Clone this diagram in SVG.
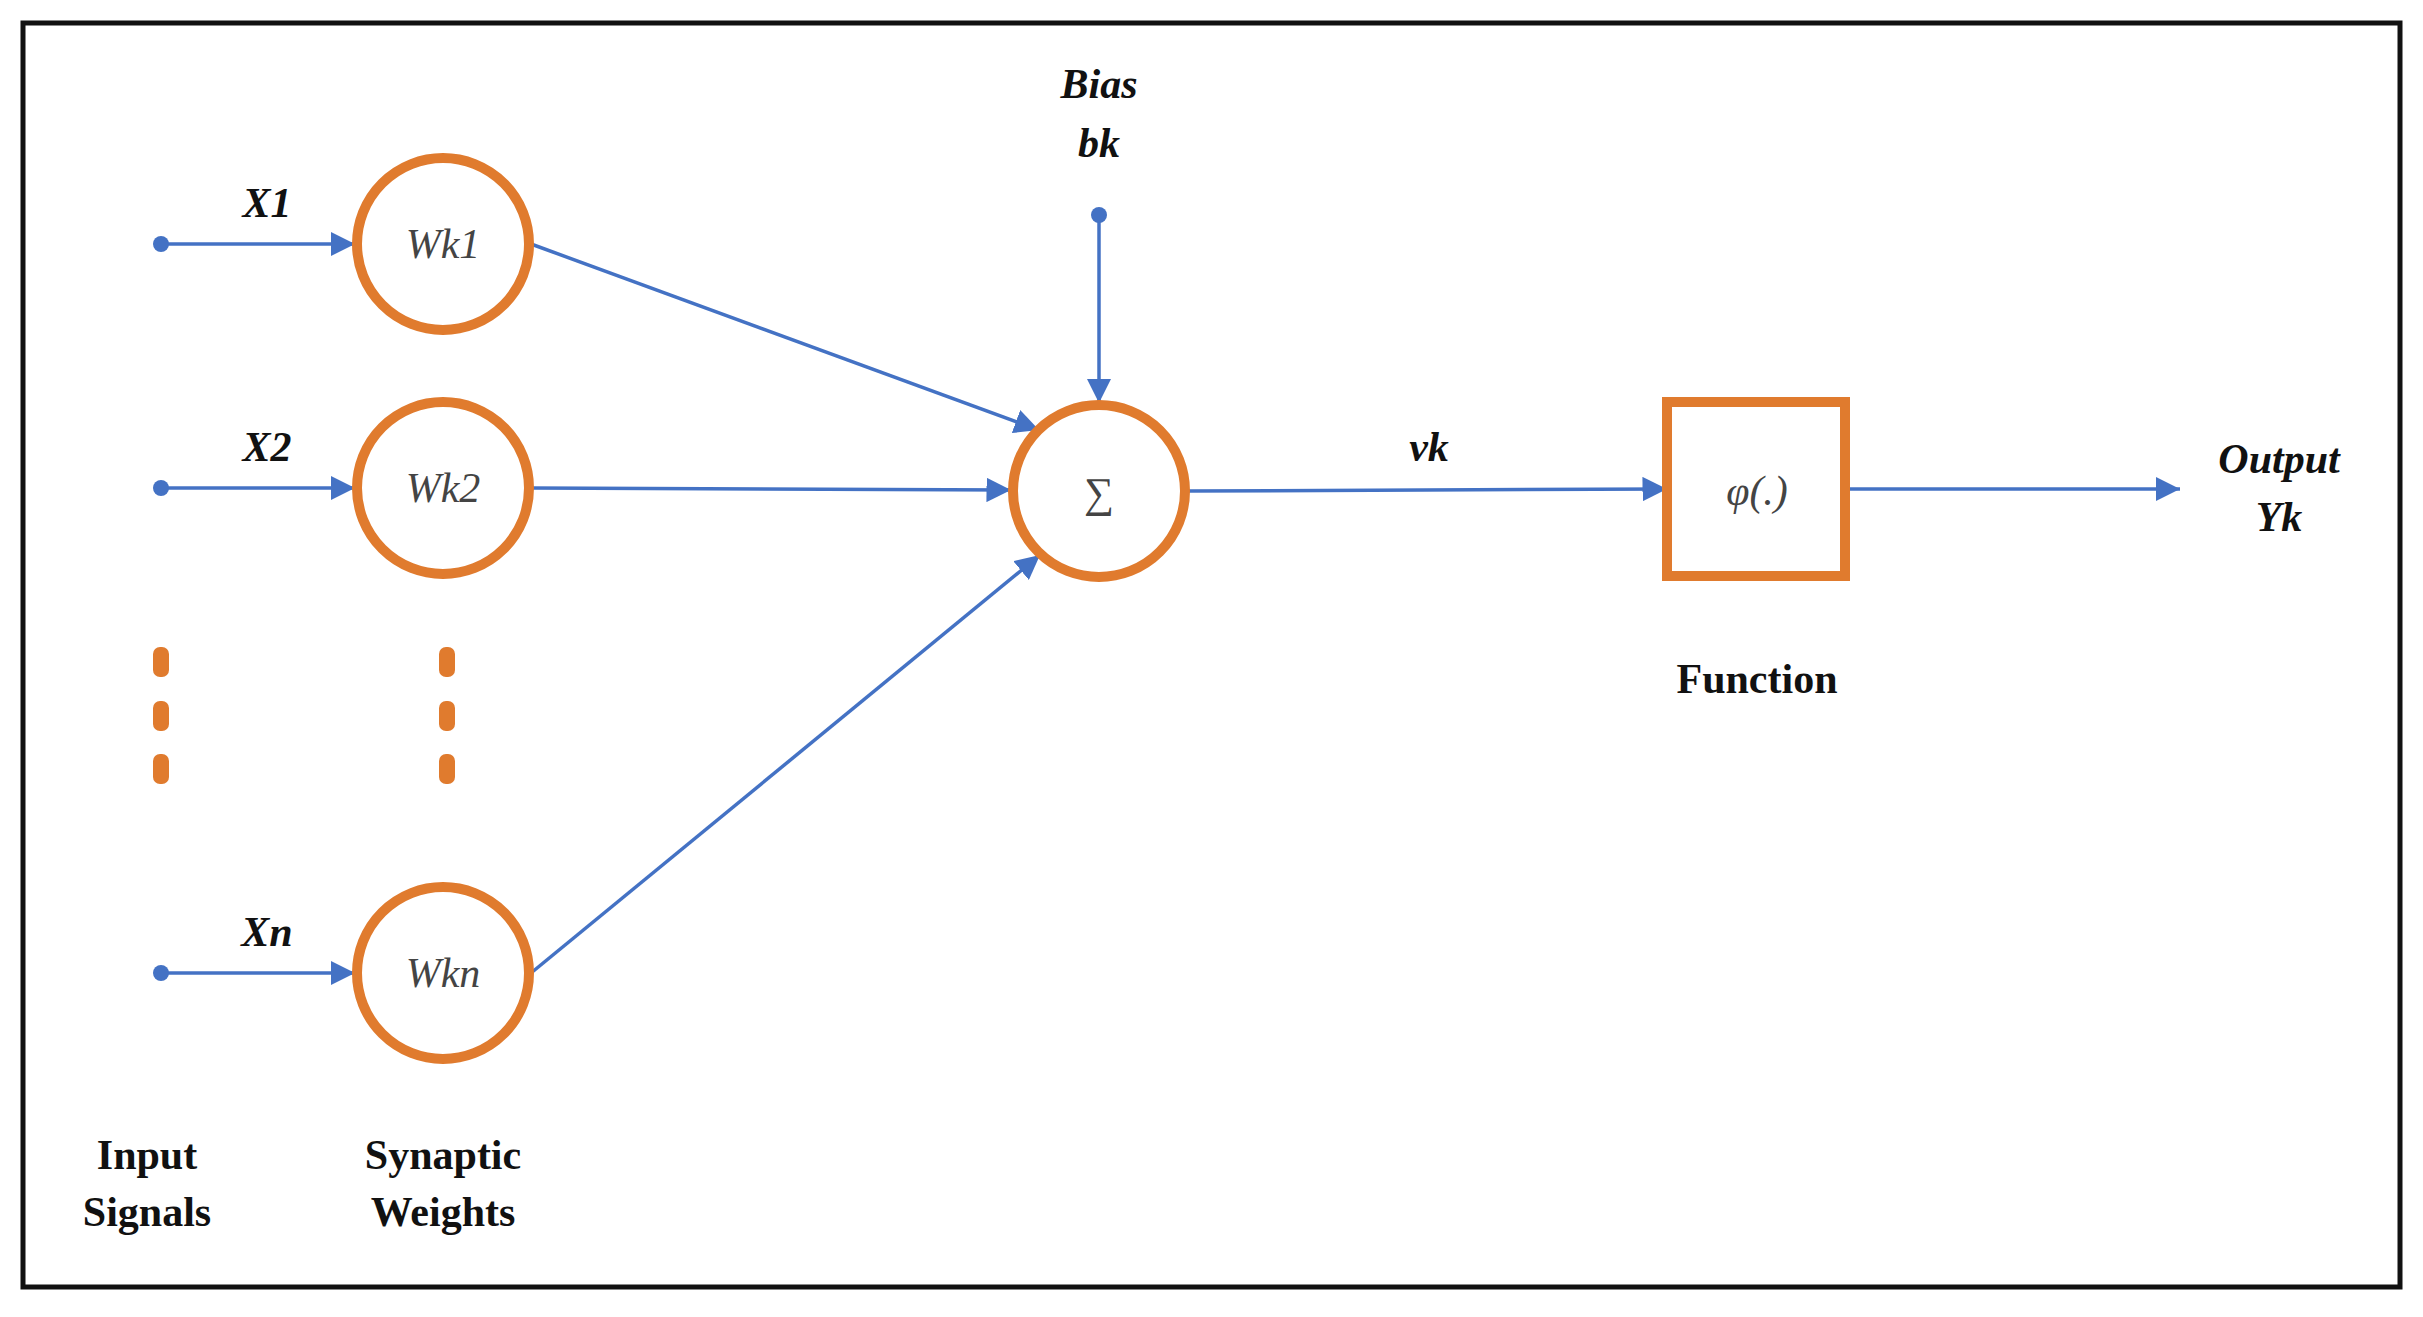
<svg xmlns="http://www.w3.org/2000/svg" width="2423" height="1317" viewBox="0 0 2423 1317">
<style>
.c{fill:#fff;stroke:#E07B2E;stroke-width:10}
.l{stroke:#4472C4;stroke-width:3.5;fill:none}
.bi{font-family:"Liberation Serif",serif;font-weight:bold;font-style:italic;font-size:42px;fill:#111;text-anchor:middle}
.b{font-family:"Liberation Serif",serif;font-weight:bold;font-size:42px;fill:#111;text-anchor:middle}
.i{font-family:"Liberation Serif",serif;font-style:italic;font-size:42px;fill:#444;text-anchor:middle}
.d{fill:#4472C4}
.o{fill:#E07B2E}
</style>
<defs><marker id="a" viewBox="0 0 10 10" refX="10" refY="5" markerWidth="8" markerHeight="8" markerUnits="userSpaceOnUse" orient="auto"><path d="M0,0L10,5L0,10z" fill="#4472C4" transform="scale(1)"/></marker>
<marker id="m" viewBox="0 0 10 10" refX="10" refY="5" markerWidth="7" markerHeight="7" orient="auto"><path d="M0,0L10,5L0,10z" fill="#4472C4"/></marker></defs>
<rect x="23" y="23" width="2377" height="1264" fill="#fff" stroke="#111" stroke-width="5"/>
<g id="connectors">
<line class="l" x1="161" y1="244" x2="355" y2="244" marker-end="url(#m)"/>
<line class="l" x1="161" y1="488" x2="355" y2="488" marker-end="url(#m)"/>
<line class="l" x1="161" y1="973" x2="355" y2="973" marker-end="url(#m)"/>
<line class="l" x1="531" y1="244" x2="1039" y2="430" marker-end="url(#m)"/>
<line class="l" x1="531" y1="488" x2="1011" y2="490" marker-end="url(#m)"/>
<line class="l" x1="531" y1="973" x2="1040" y2="555" marker-end="url(#m)"/>
<line class="l" x1="1099" y1="215" x2="1099" y2="403" marker-end="url(#m)"/>
<line class="l" x1="1187" y1="491" x2="1667" y2="489" marker-end="url(#m)"/>
<line class="l" x1="1845" y1="489" x2="2180" y2="489" marker-end="url(#m)"/>
<circle class="d" cx="161" cy="244" r="8"/><circle class="d" cx="161" cy="488" r="8"/><circle class="d" cx="161" cy="973" r="8"/><circle class="d" cx="1099" cy="215" r="8"/>
</g>
<g id="w1"><circle class="c" cx="443" cy="244" r="86"/><text class="i" x="443" y="258">Wk1</text></g>
<g id="w2"><circle class="c" cx="443" cy="488" r="86"/><text class="i" x="443" y="502">Wk2</text></g>
<g id="wn"><circle class="c" cx="443" cy="973" r="86"/><text class="i" x="443" y="987">Wkn</text></g>
<g id="sum"><circle class="c" cx="1099" cy="491" r="86"/><text class="i" x="1099" y="507">∑</text></g>
<g id="func"><rect class="c" x="1667" y="402" width="178" height="174"/><text class="i" x="1757" y="505" fill="#666">φ(.)</text></g>
<g id="dots">
<rect class="o" x="153" y="647" width="16" height="30" rx="7"/><rect class="o" x="153" y="701" width="16" height="30" rx="7"/><rect class="o" x="153" y="754" width="16" height="30" rx="7"/>
<rect class="o" x="439" y="647" width="16" height="30" rx="7"/><rect class="o" x="439" y="701" width="16" height="30" rx="7"/><rect class="o" x="439" y="754" width="16" height="30" rx="7"/>
</g>
<g id="labels">
<text class="bi" x="267" y="217">X1</text>
<text class="bi" x="267" y="461">X2</text>
<text class="bi" x="267" y="946">Xn</text>
<text class="bi" x="1099" y="98">Bias</text>
<text class="bi" x="1099" y="157">bk</text>
<text class="bi" x="1429" y="461">vk</text>
<text class="bi" x="2279" y="473">Output</text>
<text class="bi" x="2279" y="531">Yk</text>
<text class="b" x="1757" y="693">Function</text>
<text class="b" x="147" y="1169">Input</text>
<text class="b" x="147" y="1226">Signals</text>
<text class="b" x="443" y="1169">Synaptic</text>
<text class="b" x="443" y="1226">Weights</text>
</g>
</svg>
